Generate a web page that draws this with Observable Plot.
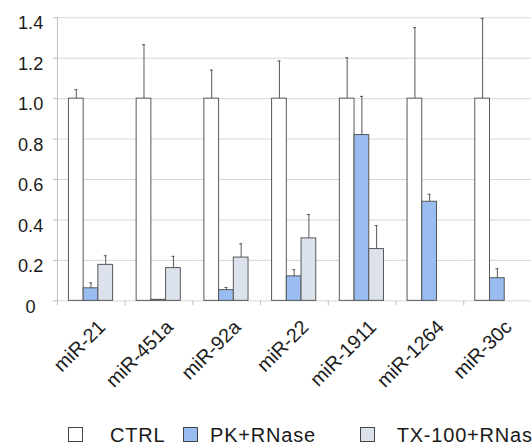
<!DOCTYPE html>
<html>
<head>
<meta charset="utf-8">
<script src="https://cdn.jsdelivr.net/npm/d3@7"></script>
<script src="https://cdn.jsdelivr.net/npm/@observablehq/plot@0.6"></script>
<style>
  html, body { margin: 0; padding: 0; background: #fff; }
  #wrap { position: relative; width: 532px; height: 447px; overflow: hidden; background: #fff;
          font-family: "Liberation Sans", Arial, Helvetica, sans-serif; }
  #chart { position: absolute; left: 0; top: 0; }
  .lg-box { position: absolute; width: 13px; height: 13px; border: 1px solid #444; }
  .lg-text { position: absolute; font-size: 20px; line-height: 20px; letter-spacing: 0.8px;
             color: #1a1a1a; white-space: nowrap; }
</style>
</head>
<body>
<div id="wrap">
  <div id="chart"></div>
  <div id="legend"></div>
</div>
<script>
// ---- data ----
const mirs = ["miR-21", "miR-451a", "miR-92a", "miR-22", "miR-1911", "miR-1264", "miR-30c"];
const series = ["CTRL", "PK+RNase", "TX-100+RNase"];
const ctrlValues = [1, 1, 1, 1, 1, 1, 1];
const ctrlErrors = [0.044, 0.267, 0.141, 0.186, 0.202, 0.351, 0.397];
const pkValues = [0.062, 0.005, 0.053, 0.121, 0.820, 0.490, 0.112];
const pkErrors = [0.027, 0, 0.013, 0.033, 0.191, 0.037, 0.047];
const txValues = [0.178, 0.162, 0.214, 0.309, 0.256, null, null];
const txErrors = [0.045, 0.058, 0.068, 0.118, 0.116, null, null];
const yTicks = [0, 0.2, 0.4, 0.6, 0.8, 1.0, 1.2, 1.4];
const yTickLabels = ["0", "0.2", "0.4", "0.6", "0.8", "1.0", "1.2", "1.4"];
const seriesColors = ["#ffffff", "#99bdf0", "#dce2ec"];

// ---- table ----
const valueLists = [ctrlValues, pkValues, txValues];
const errorLists = [ctrlErrors, pkErrors, txErrors];
const rows = [];
mirs.forEach((mir, i) => {
  series.forEach((s, j) => {
    const v = valueLists[j][i];
    if (v == null) return;
    rows.push({mir, series: s, value: v, error: errorLists[j][i] || 0});
  });
});
const errRows = rows.filter(d => d.error > 0);

const W = 542, H = 400, mL = 57.3, mT = 17.6, mB = 94;
const plotH = H - mB - mT;

const chart = Plot.plot({
  width: W, height: H,
  marginLeft: mL, marginRight: 0, marginTop: mT, marginBottom: mB,
  facet: {marginTop: 0, marginBottom: 0, marginLeft: 0, marginRight: 0},
  style: {fontFamily: "'Liberation Sans', Arial, Helvetica, sans-serif", background: "transparent", color: "#1a1a1a"},
  fx: {domain: mirs, padding: 0, axis: null},
  x: {domain: series, paddingInner: 0, paddingOuter: 0.747, align: 0.5, axis: null},
  y: {domain: [0, 1.4]},
  color: {domain: series, range: seriesColors},
  marks: [
    Plot.gridY({ticks: yTicks, stroke: "#d6d6d6", strokeOpacity: 1}),
    Plot.axisY({ticks: yTicks, tickSize: 4, tickFormat: () => "", stroke: "#bdbdbd", label: null}),
    Plot.axisY({ticks: yTicks, tickSize: 0, tickPadding: 27.3, textAnchor: "middle", dy: 6,
                fontSize: 18.5, fill: "#1a1a1a", label: null,
                tickFormat: d => yTickLabels[yTicks.findIndex(t => Math.abs(t - d) < 1e-9)]}),
    Plot.frame({anchor: "left", facetAnchor: "left", stroke: "#bdbdbd"}),
    Plot.frame({anchor: "left", stroke: "#bdbdbd", insetTop: plotH, insetBottom: -4}),
    Plot.barY(rows, {fx: "mir", x: "series", y: "value", fill: "series", stroke: "#555", strokeWidth: 1}),
    Plot.ruleX(errRows, {fx: "mir", x: "series", y1: "value", y2: d => d.value + d.error, stroke: "#555", strokeWidth: 1}),
    Plot.tickY(errRows, {fx: "mir", x: "series", y: d => d.value + d.error, inset: 6, stroke: "#555", strokeWidth: 1}),
    Plot.text(mirs, {fx: d => d, text: d => d, frameAnchor: "bottom", rotate: -45, textAnchor: "end",
                     lineAnchor: "bottom", dx: 15.5, dy: 28, fontSize: 20, fill: "#1a1a1a"})
  ]
});
document.getElementById("chart").appendChild(chart);

// ---- legend (HTML, below chart area) ----
const legend = document.getElementById("legend");
const boxLeft = [67.7, 183, 360];
const textLeft = [110, 210, 396.7];
series.forEach((s, j) => {
  const b = document.createElement("div");
  b.className = "lg-box";
  b.style.left = boxLeft[j] + "px";
  b.style.top = "427px";
  b.style.background = seriesColors[j];
  legend.appendChild(b);
  const t = document.createElement("div");
  t.className = "lg-text";
  t.style.left = textLeft[j] + "px";
  t.style.top = "424.7px";
  t.textContent = s;
  legend.appendChild(t);
});
</script>
</body>
</html>
